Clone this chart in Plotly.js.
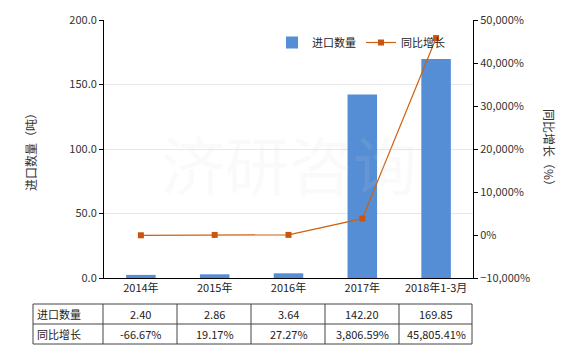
<!DOCTYPE html>
<html>
<head>
<meta charset="utf-8">
<script src="https://cdn.plot.ly/plotly-3.0.1.min.js"></script>
<style>html,body{margin:0;padding:0;background:#fff;}#chart{width:580px;height:350px;}</style>
</head>
<body>
<div id="chart"></div>
<script>
var categories = ['2014年', '2015年', '2016年', '2017年', '2018年1-3月'];
var importQty = [2.40, 2.86, 3.64, 142.20, 169.85];
var yoyGrowth = [-66.67, 19.17, 27.27, 3806.59, 45805.41];
var seriesNames = ['进口数量', '同比增长'];
var qtyLabels = ['2.40', '2.86', '3.64', '142.20', '169.85'];
var yoyLabels = ['-66.67%', '19.17%', '27.27%', '3,806.59%', '45,805.41%'];

var FONT = 'Noto Sans CJK SC, DejaVu Sans, sans-serif';
var L = 104, R = 473, T = 20, B = 278;
function px(x) { return (x - L) / (R - L); }
function py(y) { return (B - y) / (B - T); }

var traces = [
  {type: 'bar', x: categories, y: importQty, name: seriesNames[0], marker: {color: '#558ed5'}, width: 0.4, yaxis: 'y'},
  {type: 'scatter', mode: 'lines+markers', x: categories, y: yoyGrowth, name: seriesNames[1], yaxis: 'y2',
   line: {color: '#d0600e', width: 1.2}, marker: {symbol: 'square', size: 6, color: '#c9550f'}}
];

var shapes = [];
[304, 324, 344].forEach(function (y) {
  shapes.push({type: 'line', xref: 'paper', yref: 'paper', x0: px(33), x1: px(472), y0: py(y), y1: py(y), line: {color: '#444', width: 1}});
});
[33, 103, 177, 251, 325, 399, 472].forEach(function (x) {
  shapes.push({type: 'line', xref: 'paper', yref: 'paper', x0: px(x), x1: px(x), y0: py(304), y1: py(344), line: {color: '#444', width: 1}});
});

var annotations = [
  {text: '济研咨询', xref: 'paper', yref: 'paper', x: 0.5, y: 0.45, showarrow: false, font: {family: FONT, size: 64, color: 'rgba(215,215,215,0.12)'}},
  {text: '同比增长（%）', xref: 'paper', yref: 'paper', x: px(550), y: py(150), xanchor: 'center', yanchor: 'middle', textangle: 90, showarrow: false, font: {family: FONT, size: 12, color: '#333'}},
  {text: seriesNames[0], xref: 'paper', yref: 'paper', x: px(35), y: py(314), xanchor: 'left', yanchor: 'middle', showarrow: false, font: {family: FONT, size: 11, color: '#222'}},
  {text: seriesNames[1], xref: 'paper', yref: 'paper', x: px(35), y: py(334), xanchor: 'left', yanchor: 'middle', showarrow: false, font: {family: FONT, size: 11, color: '#222'}}
];
categories.forEach(function (c, i) {
  annotations.push({text: qtyLabels[i], xref: 'x', yref: 'paper', x: c, y: py(314), xanchor: 'center', yanchor: 'middle', showarrow: false, font: {family: FONT, size: 11, color: '#222'}});
  annotations.push({text: yoyLabels[i], xref: 'x', yref: 'paper', x: c, y: py(334), xanchor: 'center', yanchor: 'middle', showarrow: false, font: {family: FONT, size: 11, color: '#222'}});
});

var layout = {
  width: 580, height: 350,
  margin: {l: L, r: 580 - R, t: T, b: 350 - B, pad: 0},
  paper_bgcolor: '#fff', plot_bgcolor: '#fff',
  font: {family: FONT, size: 11, color: '#333'},
  showlegend: true,
  legend: {orientation: 'h', x: px(272), y: py(28), xanchor: 'left', yanchor: 'top', bgcolor: 'rgba(0,0,0,0)', font: {family: FONT, size: 11, color: '#222'}, itemwidth: 30},
  xaxis: {showline: true, linecolor: '#000', linewidth: 1, ticks: '', showgrid: false, tickfont: {family: FONT, size: 11, color: '#222'}, fixedrange: true},
  yaxis: {range: [0, 200], dtick: 50, tickformat: '.1f', showline: true, linecolor: '#000', linewidth: 1, ticks: 'outside', ticklen: 4, tickcolor: '#000',
          showgrid: true, gridcolor: '#e8e8e8', zeroline: false,
          title: {text: '进口数量（吨）', font: {family: FONT, size: 12, color: '#333'}, standoff: 30}},
  yaxis2: {overlaying: 'y', side: 'right', range: [-10000, 50000], dtick: 10000, tickformat: ',d', ticksuffix: '%', showline: true, linecolor: '#000', linewidth: 1,
           ticks: 'outside', ticklen: 4, tickcolor: '#000', showgrid: false, zeroline: false},
  bargap: 0.6,
  shapes: shapes,
  annotations: annotations
};

Plotly.newPlot('chart', traces, layout, {displayModeBar: false, staticPlot: true});
</script>
</body>
</html>
